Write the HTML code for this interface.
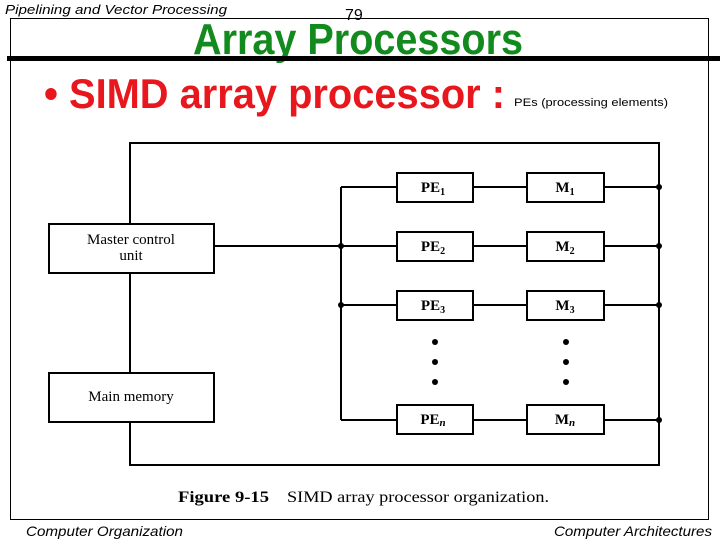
<!DOCTYPE html>
<html><head><meta charset="utf-8"><style>
body{margin:0;background:#fff;width:720px;height:540px;overflow:hidden}
svg{display:block}
</style></head><body>
<svg width="720" height="540" viewBox="0 0 720 540" xmlns="http://www.w3.org/2000/svg">
<rect x="10.5" y="18.5" width="698" height="501" fill="none" stroke="#000" stroke-width="1"/>
<rect x="0" y="0" width="720" height="17" fill="#fff"/>
<rect x="0" y="0" width="9" height="540" fill="#fff"/>
<text x="5" y="14" font-family="Liberation Sans, sans-serif" font-size="13" font-style="italic" fill="#000" textLength="222" lengthAdjust="spacingAndGlyphs">Pipelining and Vector Processing</text>
<text x="345" y="20" font-family="Liberation Sans, sans-serif" font-size="16" fill="#000">79</text>
<text x="193" y="54" font-family="Liberation Sans, sans-serif" font-size="44" font-weight="bold" fill="#138a1e" textLength="330" lengthAdjust="spacingAndGlyphs">Array Processors</text>
<rect x="7" y="56" width="713" height="5" fill="#000"/>
<text x="44" y="108" font-family="Liberation Sans, sans-serif" font-size="42" font-weight="bold" fill="#e8161d" textLength="461" lengthAdjust="spacingAndGlyphs">• SIMD array processor :</text>
<text x="514" y="106" font-family="Liberation Sans, sans-serif" font-size="11" fill="#000" textLength="154" lengthAdjust="spacingAndGlyphs">PEs (processing elements)</text>
<g stroke="#000" stroke-width="2" fill="none">
<polyline points="130,224 130,143 659,143 659,465 130,465 130,422"/>
<line x1="130" y1="273" x2="130" y2="373"/>
<rect x="49" y="224" width="165" height="49" fill="#fff"/>
<rect x="49" y="373" width="165" height="49" fill="#fff"/>
<line x1="214" y1="246" x2="341" y2="246"/>
<line x1="341" y1="187" x2="341" y2="420"/>
<line x1="341" y1="187" x2="397" y2="187"/>
<line x1="341" y1="246" x2="397" y2="246"/>
<line x1="341" y1="305" x2="397" y2="305"/>
<line x1="341" y1="420" x2="397" y2="420"/>
<line x1="473" y1="187" x2="527" y2="187"/><line x1="604" y1="187" x2="659" y2="187"/>
<line x1="473" y1="246" x2="527" y2="246"/><line x1="604" y1="246" x2="659" y2="246"/>
<line x1="473" y1="305" x2="527" y2="305"/><line x1="604" y1="305" x2="659" y2="305"/>
<line x1="473" y1="420" x2="527" y2="420"/><line x1="604" y1="420" x2="659" y2="420"/>
<rect x="397" y="173" width="76" height="29"/><rect x="527" y="173" width="77" height="29"/>
<rect x="397" y="232" width="76" height="29"/><rect x="527" y="232" width="77" height="29"/>
<rect x="397" y="291" width="76" height="29"/><rect x="527" y="291" width="77" height="29"/>
<rect x="397" y="405" width="76" height="29"/><rect x="527" y="405" width="77" height="29"/>
</g>
<g fill="#000">
<circle cx="341" cy="246" r="3"/><circle cx="341" cy="305" r="3"/>
<circle cx="659" cy="187" r="3"/><circle cx="659" cy="246" r="3"/><circle cx="659" cy="305" r="3"/><circle cx="659" cy="420" r="3"/>
<circle cx="435" cy="342" r="3"/><circle cx="435" cy="362" r="3"/><circle cx="435" cy="382" r="3"/>
<circle cx="566" cy="342" r="3"/><circle cx="566" cy="362" r="3"/><circle cx="566" cy="382" r="3"/>
</g>
<g font-family="Liberation Serif, serif" font-size="15" fill="#000" text-anchor="middle">
<text x="131" y="244">Master control</text>
<text x="131" y="260">unit</text>
<text x="131" y="401">Main memory</text>
<g font-weight="bold">
<text x="433" y="192">PE<tspan font-size="10" dy="3">1</tspan></text>
<text x="565" y="192">M<tspan font-size="10" dy="3">1</tspan></text>
<text x="433" y="251">PE<tspan font-size="10" dy="3">2</tspan></text>
<text x="565" y="251">M<tspan font-size="10" dy="3">2</tspan></text>
<text x="433" y="310">PE<tspan font-size="10" dy="3">3</tspan></text>
<text x="565" y="310">M<tspan font-size="10" dy="3">3</tspan></text>
<text x="433" y="424">PE<tspan font-size="11" font-style="italic" dy="2">n</tspan></text>
<text x="565" y="424">M<tspan font-size="11" font-style="italic" dy="2">n</tspan></text>
</g>
</g>
<text x="178" y="502" font-family="Liberation Serif, serif" font-size="16" font-weight="bold" fill="#000" textLength="91" lengthAdjust="spacingAndGlyphs">Figure 9-15</text>
<text x="287" y="502" font-family="Liberation Serif, serif" font-size="16" fill="#000" textLength="262" lengthAdjust="spacingAndGlyphs">SIMD array processor organization.</text>
<text x="26" y="536" font-family="Liberation Sans, sans-serif" font-size="14" font-style="italic" fill="#000" textLength="157" lengthAdjust="spacingAndGlyphs">Computer Organization</text>
<text x="554" y="536" font-family="Liberation Sans, sans-serif" font-size="14" font-style="italic" fill="#000" textLength="158" lengthAdjust="spacingAndGlyphs">Computer Architectures</text>
</svg>
</body></html>
